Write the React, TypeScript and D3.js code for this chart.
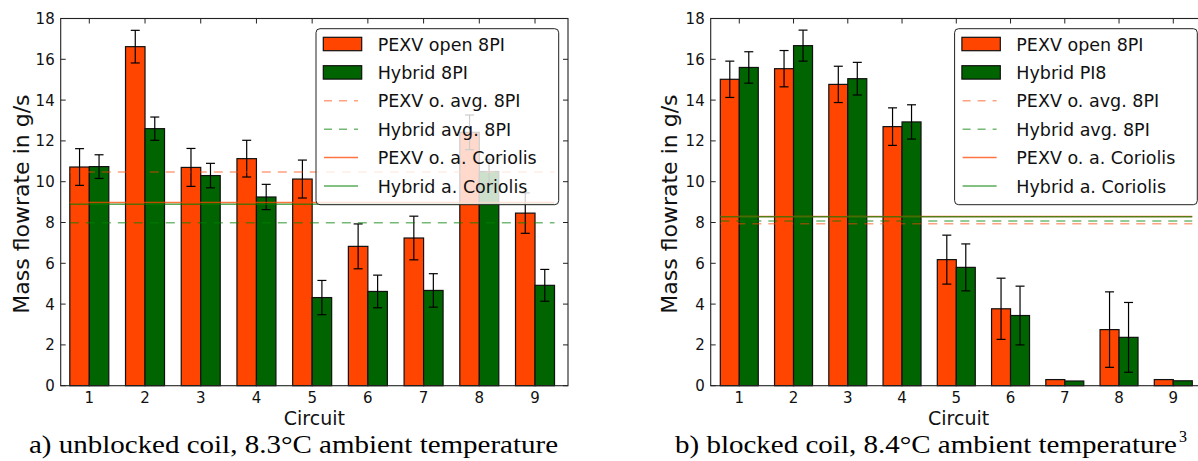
import React from "react";
import * as d3 from "d3";

// ---------- data ----------
const circuits = [1, 2, 3, 4, 5, 6, 7, 8, 9];
const yTicks = [0, 2, 4, 6, 8, 10, 12, 14, 16, 18];

// a) unblocked coil
const pexvA = [10.72, 16.62, 10.7, 11.13, 10.13, 6.83, 7.24, 12.42, 8.46];
const pexvErrA = [0.9, 0.8, 0.93, 0.9, 0.93, 1.1, 1.07, 0.85, 0.99];
const hybridA = [10.74, 12.6, 10.3, 9.25, 4.32, 4.62, 4.67, 10.5, 4.92];
const hybridErrA = [0.58, 0.57, 0.6, 0.62, 0.84, 0.8, 0.82, 0.6, 0.78];
// PEXV o. avg, Hybrid avg, PEXV o. a. Coriolis, Hybrid a. Coriolis
const avgA = [10.48, 7.99, 8.98, 8.9];
const legendA = ["PEXV open 8PI", "Hybrid 8PI", "PEXV o. avg. 8PI", "Hybrid avg. 8PI", "PEXV o. a. Coriolis", "Hybrid a. Coriolis"];
const captionA = "a) unblocked coil, 8.3°C ambient temperature";

// b) blocked coil
const pexvB = [15.02, 15.54, 14.77, 12.7, 6.18, 3.77, 0.3, 2.75, 0.3];
const pexvErrB = [0.89, 0.89, 0.89, 0.92, 1.2, 1.5, 0, 1.85, 0];
const hybridB = [15.6, 16.67, 15.05, 12.93, 5.8, 3.44, 0.23, 2.37, 0.24];
const hybridErrB = [0.77, 0.76, 0.8, 0.84, 1.15, 1.44, 0, 1.71, 0];
const avgB = [7.94, 8.07, 8.3, 8.28];
const legendB = ["PEXV open 8PI", "Hybrid PI8", "PEXV o. avg. 8PI", "Hybrid avg. 8PI", "PEXV o. a. Coriolis", "Hybrid a. Coriolis"];
const captionB = "b) blocked coil, 8.4°C ambient temperature";
const captionBSup = "3";

// ---------- styles ----------
const ORANGE = "#ff4500";
const GREEN = "#006400";
const LINE_STYLES = [
  { color: "#ff4500", opacity: 0.5, dash: "9 7" },
  { color: "#008000", opacity: 0.55, dash: "9 7" },
  { color: "#ff4500", opacity: 0.75, dash: null },
  { color: "#008000", opacity: 0.65, dash: null },
];
const SANS = "'DejaVu Sans', sans-serif";
const SERIF = "'Liberation Serif', 'Times New Roman', serif";
const BW = 0.35;

type PanelProps = {
  left: number;
  right: number;
  xMin: number;
  xMax: number;
  pexv: number[];
  pexvErr: number[];
  hybrid: number[];
  hybridErr: number[];
  avg: number[];
  legend: string[];
  ylabelX: number;
};

function Panel(p: PanelProps) {
  const x = d3.scaleLinear().domain([p.xMin, p.xMax]).range([p.left, p.right]);
  const y = d3.scaleLinear().domain([0, 18]).range([385.7, 18.5]);
  const y0 = y(0);
  const yTop = y(18);
  const bwPx = x(BW) - x(0);
  const cap = 4.5;
  const legendLeft = p.right - 252;
  const legendTop = 28.7;

  const errBar = (cx: number, v: number, e: number, key: string) => {
    if (!e) return null;
    return (
      <g key={key} stroke="#000" strokeWidth={1.2}>
        <line x1={cx} x2={cx} y1={y(v + e)} y2={y(v - e)} />
        <line x1={cx - cap} x2={cx + cap} y1={y(v + e)} y2={y(v + e)} />
        <line x1={cx - cap} x2={cx + cap} y1={y(v - e)} y2={y(v - e)} />
      </g>
    );
  };

  return (
    <g>
      {/* bars */}
      {circuits.map((c, i) => (
        <g key={"b" + c}>
          <rect x={x(c - BW)} y={y(p.pexv[i])} width={bwPx} height={y0 - y(p.pexv[i])} fill={ORANGE} stroke="#111" strokeWidth={1.2} />
          <rect x={x(c)} y={y(p.hybrid[i])} width={bwPx} height={y0 - y(p.hybrid[i])} fill={GREEN} stroke="#111" strokeWidth={1.2} />
        </g>
      ))}
      {/* error bars */}
      {circuits.map((c, i) => errBar(x(c - BW / 2), p.pexv[i], p.pexvErr[i], "ep" + c))}
      {circuits.map((c, i) => errBar(x(c + BW / 2), p.hybrid[i], p.hybridErr[i], "eh" + c))}
      {/* average lines */}
      {p.avg.map((v, i) => (
        <line
          key={"avg" + i}
          x1={x(circuits[0] - BW)}
          x2={x(circuits[circuits.length - 1] + BW)}
          y1={y(v)}
          y2={y(v)}
          stroke={LINE_STYLES[i].color}
          strokeOpacity={LINE_STYLES[i].opacity}
          strokeWidth={1.5}
          strokeDasharray={LINE_STYLES[i].dash || undefined}
        />
      ))}
      {/* legend */}
      <rect x={legendLeft} y={legendTop} width={242.7} height={176} rx={4} fill="#fff" fillOpacity={0.8} stroke="#222" strokeWidth={1} />
      {p.legend.map((lab, i) => {
        const ry = legendTop + 15.3 + i * 28.4;
        let marker;
        if (i < 2) {
          marker = <rect x={legendLeft + 7.3} y={ry - 6.7} width={38.4} height={13.4} fill={i === 0 ? ORANGE : GREEN} stroke="#111" strokeWidth={1.2} />;
        } else {
          const s = LINE_STYLES[i - 2];
          marker = (
            <line x1={legendLeft + 8} x2={legendLeft + 42} y1={ry} y2={ry} stroke={s.color} strokeOpacity={s.opacity} strokeWidth={1.5} strokeDasharray={s.dash ? "8 7" : undefined} />
          );
        }
        return (
          <g key={"lg" + i}>
            {marker}
            <text x={legendLeft + 61.7} y={ry + 6.5} fontFamily={SANS} fontSize={17.5} fill="#111">
              {lab}
            </text>
          </g>
        );
      })}
      {/* frame */}
      <rect x={p.left} y={yTop} width={p.right - p.left} height={y0 - yTop} fill="none" stroke="#222" strokeWidth={1.1} />
      {/* y ticks */}
      {yTicks.map((t) => (
        <g key={"yt" + t}>
          <line x1={p.left} x2={p.left + 5} y1={y(t)} y2={y(t)} stroke="#222" />
          <line x1={p.right - 5} x2={p.right} y1={y(t)} y2={y(t)} stroke="#222" />
          <text x={p.left - 6} y={y(t)} dy="0.36em" textAnchor="end" fontFamily={SANS} fontSize={15} fill="#111">
            {t}
          </text>
        </g>
      ))}
      {/* x ticks */}
      {circuits.map((c) => (
        <g key={"xt" + c}>
          <line x1={x(c)} x2={x(c)} y1={y0} y2={y0 - 5} stroke="#222" />
          <line x1={x(c)} x2={x(c)} y1={yTop} y2={yTop + 5} stroke="#222" />
          <text x={x(c)} y={403} textAnchor="middle" fontFamily={SANS} fontSize={15} fill="#111">
            {c}
          </text>
        </g>
      ))}
      <text x={(p.left + p.right) / 2} y={425} textAnchor="middle" fontFamily={SANS} fontSize={19} fill="#111">
        Circuit
      </text>
      <text
        transform={`translate(${p.ylabelX},${(y0 + yTop) / 2 + 2}) rotate(-90)`}
        textAnchor="middle"
        fontFamily={SANS}
        fontSize={22}
        fill="#111"
      >
        Mass flowrate in g/s
      </text>
    </g>
  );
}

export default function App() {
  return (
    <svg width={1198} height={461} style={{ display: "block", position: "absolute", left: 0, top: 0, background: "#fff" }}>
      <rect width={1198} height={461} fill="#fff" />
      <Panel left={60.7} right={568} xMin={0.4866} xMax={9.592} pexv={pexvA} pexvErr={pexvErrA} hybrid={hybridA} hybridErr={hybridErrA} avg={avgA} legend={legendA} ylabelX={29.3} />
      <Panel left={710.7} right={1206.6} xMin={0.473} xMax={9.614} pexv={pexvB} pexvErr={pexvErrB} hybrid={hybridB} hybridErr={hybridErrB} avg={avgB} legend={legendB} ylabelX={677} />
      <text x={29} y={452.7} fontFamily={SERIF} fontSize={25} textLength={529} lengthAdjust="spacingAndGlyphs" fill="#000">
        {captionA}
      </text>
      <text x={675} y={452.7} fontFamily={SERIF} fontSize={25} textLength={502} lengthAdjust="spacingAndGlyphs" fill="#000">
        {captionB}
      </text>
      <text x={1179} y={441.7} fontFamily={SERIF} fontSize={16} fill="#000">
        {captionBSup}
      </text>
    </svg>
  );
}
